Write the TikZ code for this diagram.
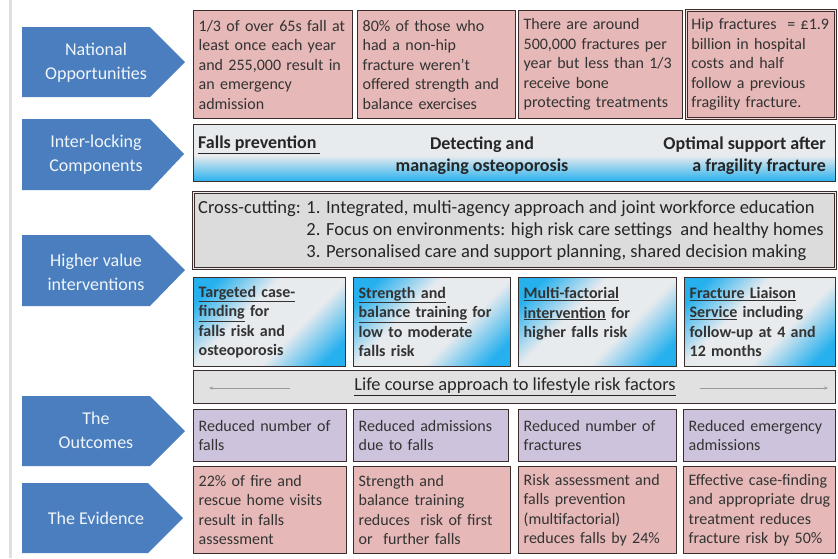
\documentclass[tikz,border=0pt]{standalone}
\usepackage{fontspec}
\setmainfont{Carlito}
\usetikzlibrary{arrows.meta}

\definecolor{arrowblue}{RGB}{74,126,190}
\definecolor{notepink}{RGB}{230,185,184}
\definecolor{outcomelilac}{RGB}{206,195,220}
\definecolor{crossgrey}{RGB}{220,220,220}
\definecolor{edgedark}{RGB}{60,45,45}
\definecolor{gradcyan}{RGB}{38,176,238}
\definecolor{gradpale}{RGB}{232,235,238}

\pgfdeclareverticalshading{compshade}{100bp}{color(0bp)=(gradcyan); color(25bp)=(gradcyan); color(48bp)=(gradpale); color(100bp)=(gradpale)}
\pgfdeclareverticalshading{cornershade}{100bp}{color(0bp)=(gradcyan); color(22bp)=(gradcyan); color(40bp)=(gradpale); color(60bp)=(gradpale); color(78bp)=(gradcyan); color(100bp)=(gradcyan)}

\begin{document}
\begin{tikzpicture}[x=1pt,y=-1pt,
  notebox/.style={draw=edgedark,line width=1.3pt,anchor=north west,inner xsep=5pt,inner ysep=0pt,align=left,text=black!80,font=\fontsize{16}{19.5}\selectfont},
  pinkbox/.style={notebox,fill=notepink},
  lilacbox/.style={notebox,fill=outcomelilac},
  cyanbox/.style={notebox,shade,shading=cornershade,shading angle=45,font=\fontsize{16}{19.5}\selectfont\bfseries},
  banner/.style={fill=arrowblue},
  bannertext/.style={align=center,text=white!92!arrowblue,font=\fontsize{18}{24}\selectfont},
  comptext/.style={text=black!85,inner sep=0pt,font=\fontsize{18}{22}\selectfont\bfseries},
  lifearrow/.style={-{Stealth[length=4pt,width=3pt]},draw=black!40,line width=0.6pt}]
  \useasboundingbox (0,0) rectangle (838,558);
  \fill[white] (0,0) rectangle (838,558);
  \draw[black!12,line width=3pt] (10,0) -- (10,558);

  % left hand banners
  \fill[banner] (22,27) -- (150,27) -- (185,62) -- (150,97) -- (22,97) -- cycle;
  \fill[banner] (22,119) -- (150,119) -- (184,154) -- (150,190) -- (22,190) -- cycle;
  \fill[banner] (22,235) -- (150,235) -- (185,270) -- (150,306) -- (22,306) -- cycle;
  \fill[banner] (22,396) -- (150,396) -- (185,431) -- (150,466) -- (22,466) -- cycle;
  \fill[banner] (22,483) -- (148,483) -- (183,518) -- (148,553) -- (22,553) -- cycle;
  \node[bannertext] (natl) at (96,63) {National\\Opportunities};
  \node[bannertext] (interlock) at (96,155) {Inter-locking\\Components};
  \node[bannertext] (higher) at (96,272) {Higher value\\interventions};
  \node[bannertext] (outcomes) at (96,430) {The\\Outcomes};
  \node[bannertext] (evidence) at (96,518) {The Evidence};

  % national opportunities
  \node[pinkbox,text width=149pt,minimum height=108pt] (opp1) at (193,10) {1/3 of over 65s fall at\\least once each year\\and 255,000 result in\\an emergency\\admission};
  \node[pinkbox,text width=148pt,minimum height=108pt] (opp2) at (357,10) {80\% of those who\\had a non-hip\\fracture weren't\\offered strength and\\balance exercises};
  \node[pinkbox,text width=154pt,minimum height=108pt] (opp3) at (518,10) {There are around\\500,000 fractures per\\year but less than 1/3\\receive bone\\protecting treatments};
  \node[pinkbox,text width=139pt,minimum height=108pt,line width=0.8pt,double=notepink!55!white,double distance=1.2pt] (opp4) at (686,10) {Hip fractures~ = £1.9\\billion in hospital\\costs and half\\follow a previous\\fragility fracture.};

  % inter-locking components
  \node[notebox,text width=632pt,minimum height=57pt,shade,shading=compshade] (comp) at (193,124) {};
  \node[comptext,anchor=west] (fallsprev) at (198,145) {\underline{Falls prevention\,}};
  \node[comptext,align=center] (osteo) at (482,156) {Detecting and\\managing osteoporosis};
  \node[comptext,align=right,anchor=east] (fragility) at (826,156) {Optimal support after\\a fragility fracture};

  % cross-cutting themes
  \node[notebox,text width=632pt,minimum height=76pt,fill=crossgrey,line width=0.8pt,double=crossgrey!50!white,double distance=1.2pt] (cross) at (193,192) {};
  \node[anchor=west,inner sep=0pt,text=black!85,font=\fontsize{18.5}{22}\selectfont] (crosstext) at (198,231) {%
    \begin{tabular}{@{}l@{ }l@{}}
      Cross-cutting: & 1. Integrated, multi-agency approach and joint workforce education\\
      & 2. Focus on environments: high risk care settings~ and healthy homes\\
      & 3. Personalised care and support planning, shared decision making
    \end{tabular}};

  % higher value interventions
  \node[cyanbox,text width=142pt,minimum height=89pt] (case) at (193,277) {\underline{Targeted case-}\\\underline{finding} for\\falls risk and\\osteoporosis};
  \node[cyanbox,text width=147pt,minimum height=89pt] (strength) at (353,277) {\underline{Strength and}\\\underline{balance training} for\\low to moderate\\falls risk};
  \node[cyanbox,text width=148pt,minimum height=89pt] (multi) at (518,277) {\underline{Multi-factorial}\\\underline{intervention} for\\higher falls risk\\~};
  \node[cyanbox,text width=141pt,minimum height=89pt] (liaison) at (684,277) {\underline{Fracture Liaison}\\\underline{Service} including\\follow-up at 4 and\\12 months};

  % life course
  \node[notebox,text width=632pt,minimum height=33pt,fill=crossgrey!85!white] (life) at (193,370) {};
  \node[text=black!85,inner sep=0pt,font=\fontsize{18.4}{22}\selectfont] (lifetext) at (515,387) {\underline{Life course approach to lifestyle risk factors}};
  \coordinate (lifeLa) at (290,388);
  \coordinate (lifeLb) at (209,388);
  \coordinate (lifeRa) at (700,388);
  \coordinate (lifeRb) at (828,388);
  \draw[lifearrow] (lifeLa) -- (lifeLb);
  \draw[lifearrow] (lifeRa) -- (lifeRb);

  % outcomes
  \node[lilacbox,text width=143pt,minimum height=52pt] (out1) at (193,409) {Reduced number of\\falls};
  \node[lilacbox,text width=145pt,minimum height=52pt] (out2) at (353,409) {Reduced admissions\\due to falls};
  \node[lilacbox,text width=148pt,minimum height=52pt] (out3) at (518,409) {Reduced number of\\fractures};
  \node[lilacbox,text width=142pt,minimum height=52pt] (out4) at (683,409) {Reduced emergency\\admissions};

  % evidence
  \node[pinkbox,text width=143pt,minimum height=87pt] (ev1) at (193,466) {22\% of fire and\\rescue home visits\\result in falls\\assessment};
  \node[pinkbox,text width=147pt,minimum height=87pt] (ev2) at (353,466) {Strength and\\balance training\\reduces~ risk of first\\or~ further falls};
  \node[pinkbox,text width=148pt,minimum height=87pt] (ev3) at (518,466) {Risk assessment and\\falls prevention\\(multifactorial)\\reduces falls by 24\%};
  \node[pinkbox,text width=142pt,minimum height=87pt] (ev4) at (683,466) {Effective case-finding\\and appropriate drug\\treatment reduces\\fracture risk by 50\%};
\end{tikzpicture}
\end{document}
